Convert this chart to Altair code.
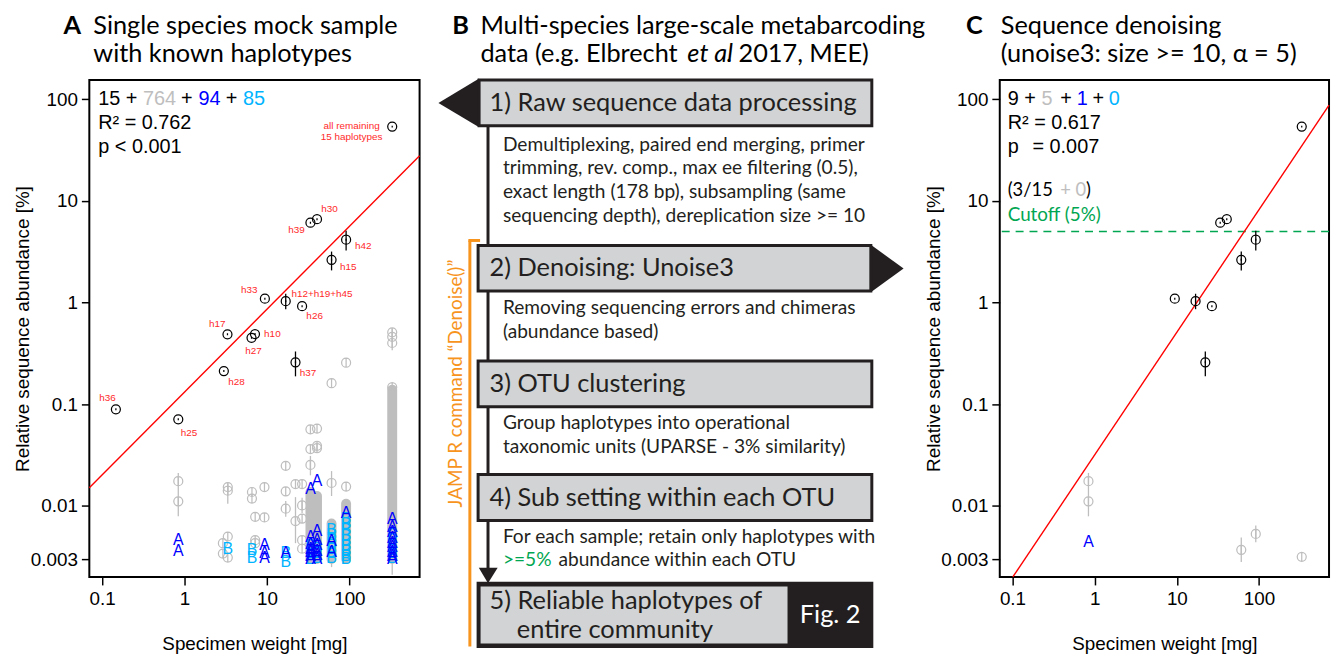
import altair as alt
import pandas as pd

# ---------------- Panel A data ----------------
hap_labels = ["all remaining\n15 haplotypes", "h30", "h39", "h42", "h15", "h33", "h12+h19+h45",
              "h26", "h17", "h10", "h27", "h28", "h37", "h36", "h25"]
hap_x = [331, 40.5, 33.7, 91.3, 60.8, 9.44, 16.9, 26.7, 3.32, 7.16, 6.5, 3.0, 22.2, 0.147, 0.84]
hap_y = [53.7, 6.6, 6.1, 4.15, 2.63, 1.09, 1.03, 0.92, 0.487, 0.49, 0.45, 0.212, 0.258, 0.089, 0.071]
lab_x = [106.6, 57.5, 22.9, 147.3, 97.2, 6.11, 46.5, 37.9, 2.50, 11.64, 6.88, 4.26, 31.5, 0.116, 1.13]
lab_y = [54.3, 8.39, 5.19, 3.62, 2.21, 1.318, 1.224, 0.742, 0.614, 0.488, 0.335, 0.166, 0.203, 0.115, 0.0524]

herr_x = [91.3, 60.8, 16.9, 22.2]
herr_lo = [3.24, 2.07, 0.86, 0.188]
herr_hi = [5.07, 3.17, 1.22, 0.33]

grey_x = [0.84, 0.84, 2.92, 2.92, 3.35, 3.35, 3.35, 3.35, 6.58, 6.58, 7.2, 7.2, 7.2, 9.33, 9.33,
          16.9, 16.9, 16.9, 22.2, 22.2, 26.7, 26.7, 26.7, 26.7, 26.7, 33.7, 33.7, 33.7,
          40.5, 40.5, 40.5, 60.8, 60.8, 91.3, 91.3, 331, 331, 331, 331]
grey_y = [0.0175, 0.0111, 0.0043, 0.0034, 0.0153, 0.0141, 0.0050, 0.0031, 0.0137, 0.0118,
          0.0078, 0.0046, 0.0043, 0.0153, 0.0077, 0.0248, 0.0139, 0.0094, 0.0164, 0.0071,
          0.0164, 0.0101, 0.0075, 0.0046, 0.0038, 0.0567, 0.0362, 0.0253, 0.0576, 0.039, 0.037,
          0.161, 0.0168, 0.256, 0.0155, 0.51, 0.46, 0.40, 0.147]
gerr_x = [0.84, 3.35, 16.9, 22.2, 26.7, 33.7, 60.8, 60.8, 331, 331]
gerr_lo = [0.0079, 0.0105, 0.0078, 0.0043, 0.0085, 0.020, 0.0125, 0.0025, 0.34, 0.0021]
gerr_hi = [0.0211, 0.0165, 0.0112, 0.0122, 0.012, 0.031, 0.022, 0.0030, 0.55, 0.0030]

band_x = [33.7, 40.5, 60.8, 91.3, 331]
band_lo = [0.0030, 0.0030, 0.0030, 0.0030, 0.0030]
band_hi = [0.0137, 0.0125, 0.0067, 0.0105, 0.139]

a_x = [0.84, 0.84, 9.33, 9.33, 9.33, 16.9, 33.7, 33.7, 33.7, 33.7, 33.7, 33.7, 33.7,
       40.5, 40.5, 40.5, 40.5, 40.5, 40.5, 40.5, 60.8, 60.8, 91.3,
       331, 331, 331, 331, 331, 331, 331, 331, 331]
a_y = [0.0046, 0.0036, 0.0041, 0.0034, 0.0031, 0.0034, 0.0148, 0.0049, 0.0042, 0.0038, 0.0035, 0.0032, 0.0030,
       0.0177, 0.0056, 0.0046, 0.0041, 0.0036, 0.0033, 0.0030, 0.0045, 0.0035, 0.0085,
       0.0075, 0.0062, 0.0055, 0.0048, 0.0043, 0.0039, 0.0035, 0.0032, 0.0030]
b_x = [3.35, 6.58, 6.58, 16.9, 16.9, 33.7, 33.7, 33.7, 33.7, 40.5, 40.5, 40.5,
       60.8, 60.8, 60.8, 60.8, 60.8, 60.8, 60.8,
       91.3, 91.3, 91.3, 91.3, 91.3, 91.3, 91.3, 91.3, 91.3,
       331, 331, 331, 331, 331, 331]
b_y = [0.0038, 0.0037, 0.0031, 0.0034, 0.0028, 0.0040, 0.0036, 0.0033, 0.0030, 0.0038, 0.0034, 0.0031,
       0.0058, 0.0052, 0.0047, 0.0042, 0.0038, 0.0034, 0.0031,
       0.0075, 0.0066, 0.0058, 0.0051, 0.0045, 0.0040, 0.0036, 0.0032, 0.0030,
       0.0052, 0.0046, 0.0041, 0.0037, 0.0034, 0.0031]

regA_x = [0.07, 711]
regA_y = [0.0151, 27.7]

# ---------------- Panel C data ----------------
c_x = [331, 40.5, 33.7, 91.3, 60.8, 9.44, 16.9, 26.7, 22.2]
c_y = [53.7, 6.6, 6.1, 4.15, 2.63, 1.09, 1.03, 0.92, 0.258]
cerr_x = [91.3, 60.8, 16.9, 22.2]
cerr_lo = [3.24, 2.07, 0.86, 0.188]
cerr_hi = [5.07, 3.17, 1.22, 0.33]
cg_x = [0.84, 0.84, 60.8, 91.3, 331]
cg_y = [0.0175, 0.0111, 0.0037, 0.0053, 0.00316]
cgerr_x = [0.84, 60.8, 91.3]
cgerr_lo = [0.0079, 0.0028, 0.0044]
cgerr_hi = [0.0211, 0.0049, 0.0064]
ca_x = [0.84]
ca_y = [0.0044]
regC_x = [0.101, 711]
regC_y = [0.002, 87.3]
cutoff = [5]

# ---------------- Panel B (diagram) data ----------------
box_x0 = [50, 49, 49, 49]
box_x1 = [446, 445, 446, 446]
box_y0 = [0, 166.7, 283.3, 397.7]
box_y1 = [46, 212.7, 329.3, 444]
box5_outer = dict(x0=[49], x1=[446], y0=[507.3], y1=[571])
box5_inner = dict(x0=[51.5], x1=[361], y0=[510.5], y1=[568])
tri_id = ["t1", "t1", "t2", "t2"]
tri_x = [9, 50, 445, 478]
tri_y = [23, -1.5, 166, 190]
tri_y2 = [23, 47.5, 214, 190]
arrow_y = [491.7, 507.3]
arrow_x = [49.7, 59]
arrow_x2 = [68.7, 59]

head_text = ["1) Raw sequence data processing", "2) Denoising: Unoise3", "3) OTU clustering",
             "4) Sub setting within each OTU", "5) Reliable haplotypes of", "entire community"]
head_x = [60.5, 60.5, 60.5, 60.5, 60.5, 88]
head_y = [23.3, 190, 306, 421, 525, 555]
desc_text = ["Demultiplexing, paired end merging, primer",
             "trimming, rev. comp., max ee filtering (0.5),",
             "exact length (178 bp), subsampling (same",
             "sequencing depth), dereplication size >= 10",
             "Removing sequencing errors and chimeras",
             "(abundance based)",
             "Group haplotypes into operational",
             "taxonomic units (UPARSE - 3% similarity)",
             "For each sample; retain only haplotypes with",
             "abundance within each OTU"]
desc_x = [74, 74, 74, 74, 74, 74, 74, 74, 74, 130]
desc_y = [65, 89, 113.3, 137.3, 230, 254, 346, 370, 460.7, 484.3]

# ---------------- styles ----------------
FH = "Liberation Sans"
FM = "Lato"
GREY = "#bebebe"
BLUE = "#0000ff"
CYAN = "#00b4ff"
RED = "#ff0000"
REDL = "#ff2a2a"
GREEN = "#00a651"
ORANGE = "#f7941d"
DARK = "#231f20"
BOXFILL = "#d1d3d4"
RING_LINE = "M-1,0A1,1,0,1,1,1,0A1,1,0,1,1,-1,0M0,-1L0,1"
RING_DOT = "M-1,0A1,1,0,1,1,1,0A1,1,0,1,1,-1,0M0,-0.22L0,0.22"
TITLE_SIZE = 25.5
HEAD_SIZE = 25.6
DESC_SIZE = 19.3

X_DOMAIN = [0.07, 711]
Y_DOMAIN = [0.002, 154]
PW_A, PW_C, PH = 333, 332, 501
B_W, B_H = 565, 501

XAXIS = alt.Axis(values=[0.1, 1, 10, 100], format="~g", title="Specimen weight [mg]",
                 titleY=67, titleBaseline="middle", labelPadding=5, labelFlush=False)
YAXIS = alt.Axis(values=[0.003, 0.01, 0.1, 1, 10, 100], format="~g",
                 title="Relative sequence abundance [%]", titleX=-67, titleBaseline="middle",
                 labelPadding=4, labelFlush=False, labelOverlap=False)


def xenc(f):
    return alt.X(f, type="quantitative", scale=alt.Scale(type="log", domain=X_DOMAIN, nice=False), axis=XAXIS)


def yenc(f):
    return alt.Y(f, type="quantitative", scale=alt.Scale(type="log", domain=Y_DOMAIN, nice=False), axis=YAXIS)


def ptext(txt, px, py, size, color="black", font=FH, weight="normal", style="normal",
          align="left", baseline="alphabetic"):
    return alt.Chart(pd.DataFrame({"t": [txt]})).mark_text(
        font=font, fontSize=size, color=color, fontWeight=weight, fontStyle=style,
        align=align, baseline=baseline).encode(x=alt.value(px), y=alt.value(py), text="t:N")


def rings(xs, ys, color, shape, sw=1.25):
    return alt.Chart(pd.DataFrame({"x": xs, "y": ys})).mark_point(
        shape=shape, size=82, filled=False, color=color, strokeWidth=sw, opacity=1
    ).encode(x=xenc("x"), y=yenc("y"))


def bars(xs, lo, hi, color, sw=1.3, cap="butt"):
    return alt.Chart(pd.DataFrame({"x": xs, "lo": lo, "hi": hi})).mark_rule(
        color=color, strokeWidth=sw, strokeCap=cap).encode(x=xenc("x"), y=yenc("lo"), y2="hi")


def letters(xs, ys, letter, color):
    return alt.Chart(pd.DataFrame({"x": xs, "y": ys})).mark_text(
        text=letter, font=FH, fontSize=16, color=color, align="center", baseline="middle"
    ).encode(x=xenc("x"), y=yenc("y"))


def line(xs, ys):
    return alt.Chart(pd.DataFrame({"x": xs, "y": ys})).mark_line(color=RED, strokeWidth=1.4).encode(
        x=xenc("x"), y=yenc("y"))


# ---------------- Panel A ----------------
panelA = alt.layer(
    bars(band_x, band_lo, band_hi, GREY, sw=10, cap="round"),
    bars(gerr_x, gerr_lo, gerr_hi, GREY),
    rings(grey_x, grey_y, GREY, RING_LINE),
    letters(b_x, b_y, "B", CYAN),
    letters(a_x, a_y, "A", BLUE),
    line(regA_x, regA_y),
    bars(herr_x, herr_lo, herr_hi, "black"),
    rings(hap_x, hap_y, "black", RING_DOT),
    alt.Chart(pd.DataFrame({"x": lab_x, "y": lab_y, "t": hap_labels})).mark_text(
        font=FH, fontSize=10, color=REDL, lineBreak="\n", lineHeight=11, align="center", baseline="middle"
    ).encode(x=xenc("x"), y=yenc("y"), text="t:N"),
    ptext("15 +", 9, 25, 20),
    ptext("764", 54, 25, 20, GREY),
    ptext("+", 92.5, 25, 20),
    ptext("94", 110, 25, 20, BLUE),
    ptext("+", 137.5, 25, 20),
    ptext("85", 155, 25, 20, CYAN),
    ptext("R\u00b2 = 0.762", 9, 49.3, 20),
    ptext("p < 0.001", 9, 73.3, 20),
    ptext("A", -26, -46.7, TITLE_SIZE, font=FM, weight="bold"),
    ptext("Single species mock sample", 4, -46.7, TITLE_SIZE, font=FM),
    ptext("with known haplotypes", 4, -18.3, TITLE_SIZE, font=FM),
).properties(width=PW_A, height=PH)

# ---------------- Panel C ----------------
panelC = alt.layer(
    bars(cgerr_x, cgerr_lo, cgerr_hi, GREY),
    rings(cg_x, cg_y, GREY, RING_LINE),
    letters(ca_x, ca_y, "A", BLUE),
    alt.Chart(pd.DataFrame({"y": cutoff})).mark_rule(color=GREEN, strokeWidth=1.5, strokeDash=[8, 6]).encode(
        y=yenc("y")),
    line(regC_x, regC_y),
    bars(cerr_x, cerr_lo, cerr_hi, "black"),
    rings(c_x, c_y, "black", RING_DOT),
    ptext("9 +", 8, 25, 20),
    ptext("5", 42, 25, 20, GREY),
    ptext("+", 61, 25, 20),
    ptext("1", 77.5, 25, 20, BLUE),
    ptext("+", 93.5, 25, 20),
    ptext("0", 110, 25, 20, CYAN),
    ptext("R\u00b2 = 0.617", 8, 49.3, 20),
    ptext("p", 8, 73.3, 20),
    ptext("= 0.007", 33, 73.3, 20),
    ptext("(3/15", 8, 117.3, 18.5, font=FM),
    ptext("+ 0", 61, 117.3, 18.5, GREY, font=FM),
    ptext(")", 87, 117.3, 18.5, font=FM),
    ptext("Cutoff (5%)", 8, 141.7, 19, GREEN, font=FM),
    ptext("C", -34, -46.7, TITLE_SIZE, font=FM, weight="bold"),
    ptext("Sequence denoising", 1, -46.7, TITLE_SIZE, font=FM),
    ptext("(unoise3: size >= 10, \u03b1 = 5)", 1, -18.3, TITLE_SIZE, font=FM),
).properties(width=PW_C, height=PH)

# ---------------- Panel B ----------------
bxs = alt.Scale(domain=[0, B_W], nice=False, zero=False)
bys = alt.Scale(domain=[0, B_H], nice=False, zero=False, reverse=True)


def bX(f):
    return alt.X(f, type="quantitative", scale=bxs, axis=None)


def bY(f):
    return alt.Y(f, type="quantitative", scale=bys, axis=None)


def brect(x0, x1, y0, y1, fill, stroke=None, sw=0):
    kw = dict(fill=fill)
    if stroke:
        kw.update(stroke=stroke, strokeWidth=sw)
    return alt.Chart(pd.DataFrame({"x0": x0, "x1": x1, "y0": y0, "y1": y1})).mark_rect(**kw).encode(
        x=bX("x0"), x2=alt.X2("x1"), y=bY("y0"), y2=alt.Y2("y1"))


def btext(txts, xs, ys, size, color=DARK, weight="normal", style="normal", align="left",
          baseline="middle", angle=0):
    return alt.Chart(pd.DataFrame({"x": xs, "y": ys, "t": txts})).mark_text(
        font=FM, fontSize=size, color=color, fontWeight=weight, fontStyle=style, align=align,
        baseline=baseline, angle=angle).encode(x=bX("x"), y=bY("y"), text="t:N")


panelB = alt.layer(
    alt.Chart(pd.DataFrame({"x": [59], "y": [46], "y2": [492]})).mark_rule(color=DARK, strokeWidth=3).encode(
        x=bX("x"), y=bY("y"), y2=alt.Y2("y2")),
    alt.Chart(pd.DataFrame({"x": [40.7], "y": [161.7], "y2": [571]})).mark_rule(color=ORANGE, strokeWidth=3).encode(
        x=bX("x"), y=bY("y"), y2=alt.Y2("y2")),
    alt.Chart(pd.DataFrame({"x": [39.2], "x2": [51], "y": [161.7]})).mark_rule(color=ORANGE, strokeWidth=3).encode(
        x=bX("x"), x2=alt.X2("x2"), y=bY("y")),
    btext(["JAMP R command \u201cDenoise()\u201d"], [26.3], [306], 19, ORANGE, align="center", angle=270),
    alt.Chart(pd.DataFrame({"id": tri_id, "x": tri_x, "y": tri_y, "y2": tri_y2})).mark_area(
        orient="vertical", color=DARK, opacity=1).encode(x=bX("x"), y=bY("y"), y2=alt.Y2("y2"), detail="id:N"),
    alt.Chart(pd.DataFrame({"y": arrow_y, "x": arrow_x, "x2": arrow_x2})).mark_area(
        orient="horizontal", color=DARK, opacity=1).encode(y=bY("y"), x=bX("x"), x2=alt.X2("x2")),
    brect(box_x0, box_x1, box_y0, box_y1, BOXFILL, DARK, 3),
    brect(box5_outer["x0"], box5_outer["x1"], box5_outer["y0"], box5_outer["y1"], DARK, DARK, 3),
    brect(box5_inner["x0"], box5_inner["x1"], box5_inner["y0"], box5_inner["y1"], BOXFILL),
    btext(head_text, head_x, head_y, HEAD_SIZE),
    btext(desc_text, desc_x, desc_y, DESC_SIZE),
    btext([">=5%"], [74], [484.3], DESC_SIZE, GREEN),
    btext(["Fig. 2"], [404], [539], HEAD_SIZE, "white", align="center"),
    btext(["B"], [23], [-46.7], TITLE_SIZE, "black", weight="bold", baseline="alphabetic"),
    btext(["Multi-species large-scale metabarcoding", "data (e.g. Elbrecht"], [51.3, 51.3], [-46.7, -18.3],
          TITLE_SIZE, "black", baseline="alphabetic"),
    btext(["et al"], [260], [-18.3], TITLE_SIZE, "black", style="italic", baseline="alphabetic"),
    btext([". 2017, MEE)"], [299], [-18.3], TITLE_SIZE, "black", baseline="alphabetic"),
).properties(width=B_W, height=B_H, view=alt.ViewBackground(stroke="transparent", strokeWidth=0))

chart = alt.hconcat(panelA, panelB, panelC, spacing=10, bounds="flush").properties(
    padding={"left": 5, "top": 2, "right": 0, "bottom": 0}
).configure_view(stroke="black", strokeWidth=2).configure_axis(
    labelFont=FH, titleFont=FH, labelFontSize=19, titleFontSize=19, titleFontWeight="normal",
    labelColor="black", titleColor="black", tickColor="black", tickWidth=1.5, tickSize=8,
    grid=False, domain=False
)

chart.save("out.html", embed_options={"renderer": "svg", "actions": False})
